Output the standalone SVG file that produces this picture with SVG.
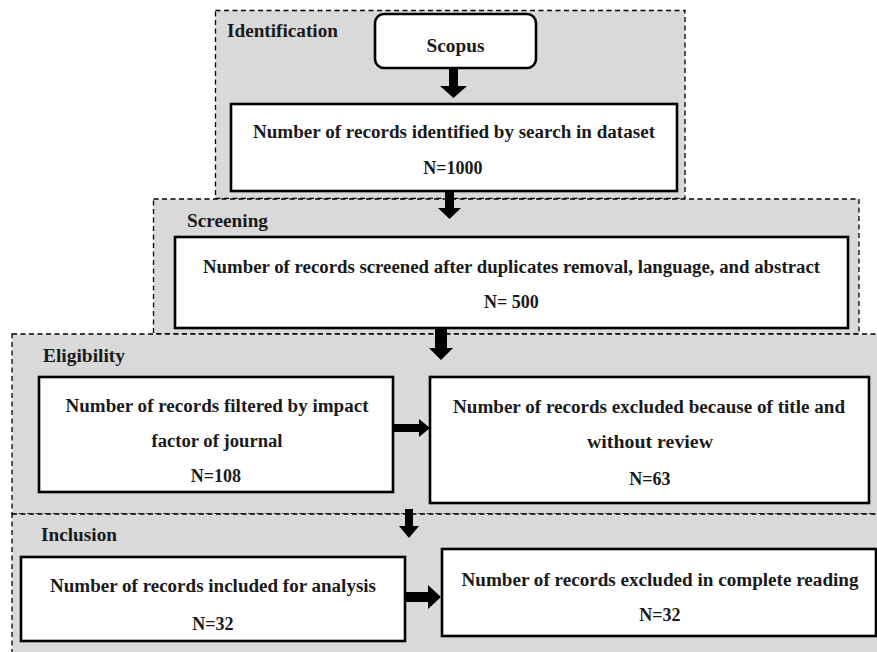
<svg xmlns="http://www.w3.org/2000/svg" width="877" height="652" viewBox="0 0 877 652">
  <style>
    .panel { fill: #d9d9d9; stroke: #000; stroke-width: 1.3; stroke-dasharray: 5 3.5; }
    .box { fill: #fff; stroke: #000; stroke-width: 2.6; }
    .arrow { fill: #000; stroke: none; }
    text { font-family: "Liberation Serif", "DejaVu Serif", serif; font-weight: 700; font-size: 18px; fill: #1a1a1a; }
    .c { text-anchor: middle; }
    .lbl { font-size: 18px; }
  </style>

  <!-- stage panels -->
  <g id="panel-identification">
    <rect class="panel" x="215.5" y="10.5" width="469.5" height="188"/>
    <text class="lbl" x="227" y="37" textLength="111" lengthAdjust="spacingAndGlyphs">Identification</text>
  </g>
  <g id="panel-screening">
    <rect class="panel" x="153.5" y="199" width="705.5" height="135"/>
    <text class="lbl" x="187" y="227" textLength="81" lengthAdjust="spacingAndGlyphs">Screening</text>
  </g>
  <g id="panel-eligibility">
    <rect class="panel" x="12" y="334" width="872" height="180"/>
    <text class="lbl" x="43" y="362" textLength="82" lengthAdjust="spacingAndGlyphs">Eligibility</text>
  </g>
  <g id="panel-inclusion">
    <rect class="panel" x="12" y="514" width="872" height="150"/>
    <text class="lbl" x="41" y="541" textLength="76" lengthAdjust="spacingAndGlyphs">Inclusion</text>
  </g>

  <!-- nodes -->
  <g id="scopus">
    <rect class="box" x="375" y="14" width="161" height="54" rx="9" ry="9"/>
    <text class="c" x="455.5" y="52" textLength="58" lengthAdjust="spacingAndGlyphs">Scopus</text>
  </g>
  <g id="identified">
    <rect class="box" x="231" y="104" width="446" height="87"/>
    <text class="c" x="454" y="138" textLength="402" lengthAdjust="spacingAndGlyphs">Number of records identified by search in dataset</text>
    <text class="c" x="453" y="174">N=1000</text>
  </g>
  <g id="screened">
    <rect class="box" x="175" y="237" width="673" height="91"/>
    <text class="c" x="511.5" y="273" textLength="617" lengthAdjust="spacingAndGlyphs">Number of records screened after duplicates removal, language, and abstract</text>
    <text class="c" x="511.5" y="308">N= 500</text>
  </g>
  <g id="filtered">
    <rect class="box" x="39" y="377" width="354" height="115"/>
    <text class="c" x="217" y="412" textLength="303" lengthAdjust="spacingAndGlyphs">Number of records filtered by impact</text>
    <text class="c" x="217" y="447" textLength="131" lengthAdjust="spacingAndGlyphs">factor of journal</text>
    <text class="c" x="216" y="482">N=108</text>
  </g>
  <g id="excluded-title">
    <rect class="box" x="430" y="377" width="439" height="126"/>
    <text class="c" x="649" y="413" textLength="392" lengthAdjust="spacingAndGlyphs">Number of records excluded because of title and</text>
    <text class="c" x="650" y="448" textLength="126" lengthAdjust="spacingAndGlyphs">without review</text>
    <text class="c" x="650" y="485">N=63</text>
  </g>
  <g id="included">
    <rect class="box" x="21" y="557" width="384" height="84"/>
    <text class="c" x="213" y="592" textLength="326" lengthAdjust="spacingAndGlyphs">Number of records included for analysis</text>
    <text class="c" x="213" y="630">N=32</text>
  </g>
  <g id="excluded-reading">
    <rect class="box" x="442" y="549" width="434" height="87"/>
    <text class="c" x="660" y="586" textLength="397" lengthAdjust="spacingAndGlyphs">Number of records excluded in complete reading</text>
    <text class="c" x="660" y="621">N=32</text>
  </g>

  <!-- connectors: thick block arrows -->
  <g id="connectors">
    <polygon class="arrow" points="449,68 458,68 458,86 467,86 453.5,98 440,86 449,86"/>
    <polygon class="arrow" points="445,191 454,191 454,208 461,208 449.5,219 438,208 445,208"/>
    <polygon class="arrow" points="435,329 447,329 447,348 453,348 441,360 429,348 435,348"/>
    <polygon class="arrow" points="405,509 413,509 413,526 419,526 409,538 399,526 405,526"/>
    <polygon class="arrow" points="394,424 419,424 419,419 430,428 419,437 419,432 394,432"/>
    <polygon class="arrow" points="406,592 428,592 428,585 441,597 428,609 428,602 406,602"/>
  </g>
</svg>
